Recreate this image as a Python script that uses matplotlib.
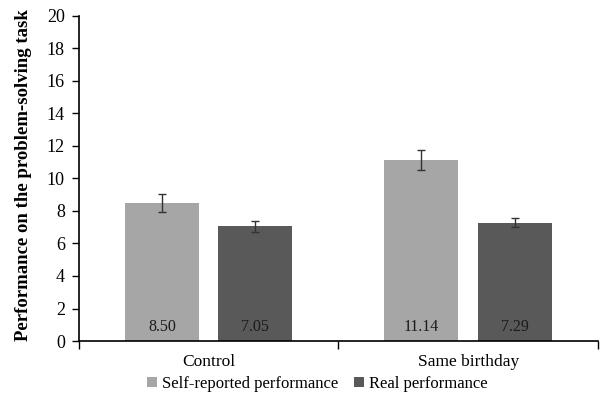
import matplotlib.pyplot as plt
import numpy as np

plt.rcParams['font.family'] = ['Liberation Serif', 'DejaVu Serif']

groups = ["Control", "Same birthday"]
series = ["Self-reported performance", "Real performance"]
self_reported = [8.50, 11.14]
real = [7.05, 7.29]
self_err = [0.55, 0.6]
real_err = [0.35, 0.3]
colors = ["#a6a6a6", "#595959"]

fig = plt.figure(figsize=(6.01, 3.97), dpi=100)
ax = fig.add_axes([0.131, 0.141, 0.864, 0.819])

x = np.arange(len(groups))
w = 0.285
off = 0.18
ekw = dict(ecolor="#333333", elinewidth=1, capsize=3, capthick=1)
b1 = ax.bar(x - off, self_reported, w, color=colors[0], label=series[0],
            yerr=self_err, error_kw=ekw)
b2 = ax.bar(x + off, real, w, color=colors[1], label=series[1],
            yerr=real_err, error_kw=ekw)

for bars, vals in [(b1, self_reported), (b2, real)]:
    for rect, v in zip(bars, vals):
        ax.text(rect.get_x() + rect.get_width() / 2, 0.35, f"{v:.2f}",
                ha="center", va="bottom", fontsize=11.5, color="#1a1a1a")

ax.set_xlim(-0.5, 1.5)
ax.set_ylim(0, 20)
ax.set_yticks(range(0, 21, 2))
ax.set_xticks(x)
ax.set_xticklabels(groups, fontsize=12.5)
ax.set_xticks([-0.5, 0.5, 1.5], minor=True)
ax.tick_params(axis="x", which="major", length=0, pad=9)
ax.tick_params(axis="x", which="minor", length=6, width=1)
ax.tick_params(axis="y", length=5, width=1, labelsize=13, pad=5)
for s in ["top", "right"]:
    ax.spines[s].set_visible(False)
ax.spines["left"].set_linewidth(1.2)
ax.spines["bottom"].set_linewidth(1.2)

ax.set_ylabel("Performance on the problem-solving task", fontsize=13.5,
              fontweight="bold")
ax.yaxis.set_label_coords(-0.09, 0.51)

fig.legend(handles=[b1, b2], labels=series, loc="lower center", ncol=2,
           bbox_to_anchor=(0.528, -0.025), frameon=False, fontsize=12,
           handlelength=0.55, handleheight=0.55, handletextpad=0.3, columnspacing=1.0)

fig.savefig("out.png", dpi=100)
